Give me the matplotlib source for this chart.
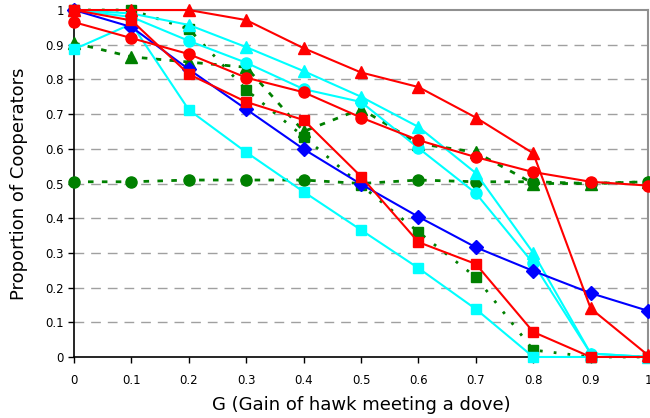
import numpy as np
import matplotlib
matplotlib.use('Agg')
import matplotlib.pyplot as plt

g = [0, 0.1, 0.2, 0.3, 0.4, 0.5, 0.6, 0.7, 0.8, 0.9, 1.0]

# green series (dashed)
green_circ = [0.505, 0.505, 0.51, 0.51, 0.51, 0.50, 0.51, 0.505, 0.505, 0.50, 0.505]
green_tri = [0.905, 0.865, 0.85, 0.835, 0.65, 0.715, 0.615, 0.59, 0.50, 0.50, 0.505]
green_sq = [1.0, 1.0, 0.945, 0.77, 0.635, 0.495, 0.36, 0.23, 0.02, 0.0, 0.0]

# cyan series
cyan_tri = [1.0, 0.99, 0.957, 0.893, 0.824, 0.75, 0.663, 0.53, 0.30, 0.01, 0.0]
cyan_circ = [1.0, 0.98, 0.911, 0.848, 0.772, 0.735, 0.602, 0.472, 0.27, 0.01, 0.0]
cyan_sq = [0.887, 0.96, 0.712, 0.59, 0.476, 0.366, 0.256, 0.138, 0.0, 0.0, 0.0]

# blue
blue_dia = [1.0, 0.951, 0.829, 0.714, 0.599, 0.498, 0.404, 0.316, 0.248, 0.184, 0.133]

# red series
red_tri = [1.0, 1.0, 1.0, 0.971, 0.89, 0.82, 0.778, 0.69, 0.587, 0.14, 0.005]
red_circ = [0.965, 0.919, 0.873, 0.805, 0.763, 0.69, 0.625, 0.576, 0.533, 0.505, 0.494]
red_sq = [1.0, 0.97, 0.815, 0.735, 0.683, 0.52, 0.331, 0.268, 0.072, 0.0, 0.0]

fig = plt.figure(figsize=(6.5, 4.18), dpi=100)
ax = fig.add_axes([0.114, 0.146, 0.883, 0.830])

dash = (0, (2, 3))
ms = 8
kw = dict(clip_on=False)
ax.plot(g, green_circ, color='green', ls=dash, lw=2, marker='o', ms=ms, zorder=3, **kw)
ax.plot(g, green_tri, color='green', ls=dash, lw=2, marker='^', ms=ms, zorder=3, **kw)
ax.plot(g, green_sq, color='green', ls=(0, (1, 4)), lw=2, marker='s', ms=ms - 1, zorder=3, **kw)

ax.plot(g, cyan_sq, color='cyan', lw=1.5, marker='s', ms=ms - 1, zorder=4, **kw)
ax.plot(g, cyan_circ, color='cyan', lw=1.5, marker='o', ms=ms, zorder=4, **kw)
ax.plot(g, cyan_tri, color='cyan', lw=1.5, marker='^', ms=ms, zorder=4, **kw)

ax.plot(g, blue_dia, color='blue', lw=1.5, marker='D', ms=ms - 1, zorder=5, **kw)

ax.plot(g, red_sq, color='red', lw=1.5, marker='s', ms=ms - 1, zorder=6, **kw)
ax.plot(g, red_circ, color='red', lw=1.5, marker='o', ms=ms, zorder=6, **kw)
ax.plot(g, red_tri, color='red', lw=1.5, marker='^', ms=ms, zorder=6, **kw)

ax.set_xlim(0, 1)
ax.set_ylim(0, 1)
ticks = [0, 0.1, 0.2, 0.3, 0.4, 0.5, 0.6, 0.7, 0.8, 0.9, 1]
labels = ['0', '0.1', '0.2', '0.3', '0.4', '0.5', '0.6', '0.7', '0.8', '0.9', '1']
ax.set_xticks(ticks)
ax.set_xticklabels(labels)
ax.set_yticks(ticks)
ax.set_yticklabels(labels)
ax.tick_params(labelsize=8.5, length=4, width=1, color='black')
ax.tick_params(axis='x', pad=8)

for y in ticks[1:-1]:
    ax.axhline(y, color='#a0a0a0', lw=1, ls=(0, (7, 5)), zorder=1)

ax.spines['left'].set_color('black')
ax.spines['bottom'].set_color('black')
ax.spines['left'].set_linewidth(1.2)
ax.spines['bottom'].set_linewidth(1.2)
ax.spines['top'].set_color('#909090')
ax.spines['right'].set_color('#909090')
ax.spines['top'].set_linewidth(1.5)
ax.spines['right'].set_linewidth(1.5)
for s in ax.spines.values():
    s.set_zorder(2)

ax.set_xlabel('G (Gain of hawk meeting a dove)', fontsize=13, labelpad=7)
ax.set_ylabel('Proportion of Cooperators', fontsize=13, labelpad=12)

fig.savefig('out.png', dpi=100)
